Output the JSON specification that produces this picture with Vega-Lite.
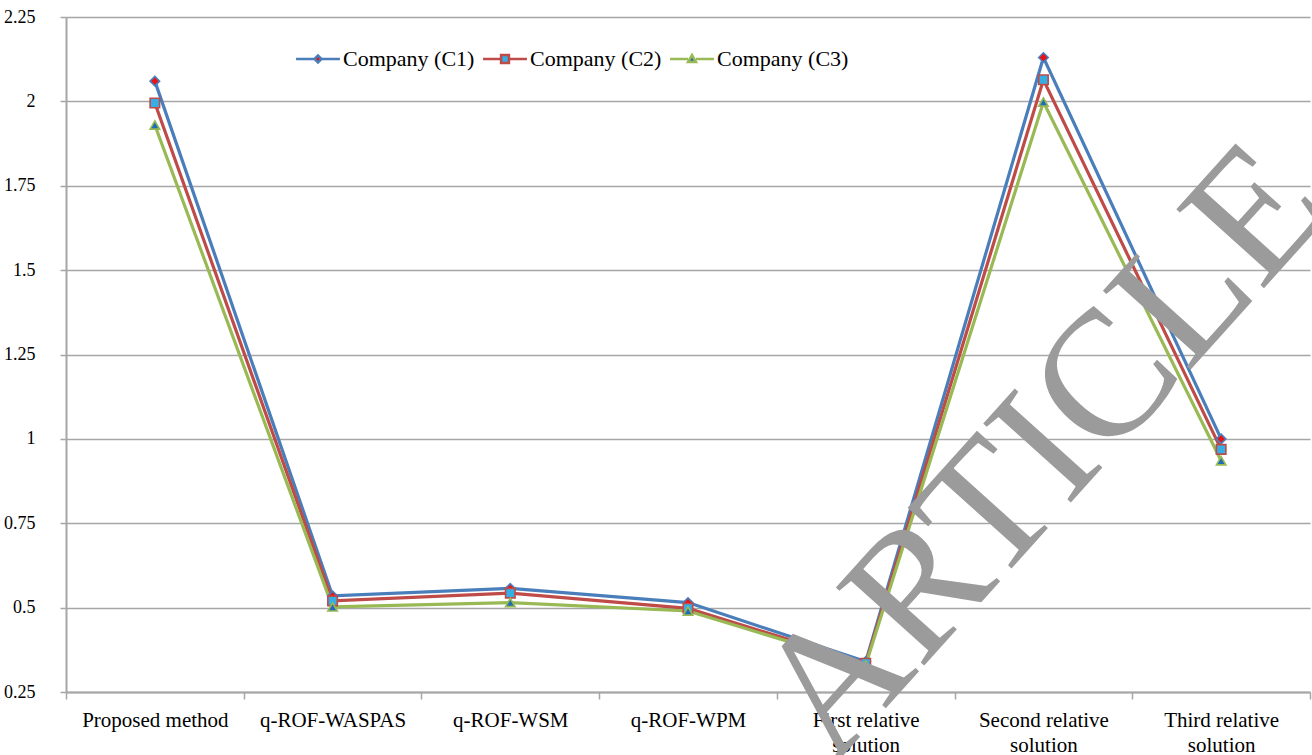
{
  "$schema": "https://vega.github.io/schema/vega-lite/v6.json",
  "width": 1244,
  "height": 675,
  "autosize": {"type": "none"},
  "padding": {"left": 66, "top": 17, "right": 2, "bottom": 63},
  "background": "#ffffff",
  "config": {
    "view": {"stroke": null},
    "font": "Liberation Serif"
  },
  "datasets": {
    "scores": [
      {"method": "Proposed method", "series": "Company (C1)", "value": 2.06},
      {"method": "Proposed method", "series": "Company (C2)", "value": 1.995},
      {"method": "Proposed method", "series": "Company (C3)", "value": 1.93},
      {"method": "q-ROF-WASPAS", "series": "Company (C1)", "value": 0.535},
      {"method": "q-ROF-WASPAS", "series": "Company (C2)", "value": 0.52},
      {"method": "q-ROF-WASPAS", "series": "Company (C3)", "value": 0.502},
      {"method": "q-ROF-WSM", "series": "Company (C1)", "value": 0.557},
      {"method": "q-ROF-WSM", "series": "Company (C2)", "value": 0.543},
      {"method": "q-ROF-WSM", "series": "Company (C3)", "value": 0.515},
      {"method": "q-ROF-WPM", "series": "Company (C1)", "value": 0.515},
      {"method": "q-ROF-WPM", "series": "Company (C2)", "value": 0.498},
      {"method": "q-ROF-WPM", "series": "Company (C3)", "value": 0.49},
      {"method": "First relative solution", "series": "Company (C1)", "value": 0.34},
      {"method": "First relative solution", "series": "Company (C2)", "value": 0.335},
      {"method": "First relative solution", "series": "Company (C3)", "value": 0.33},
      {"method": "Second relative solution", "series": "Company (C1)", "value": 2.13},
      {"method": "Second relative solution", "series": "Company (C2)", "value": 2.064},
      {"method": "Second relative solution", "series": "Company (C3)", "value": 1.998},
      {"method": "Third relative solution", "series": "Company (C1)", "value": 1.0},
      {"method": "Third relative solution", "series": "Company (C2)", "value": 0.969},
      {"method": "Third relative solution", "series": "Company (C3)", "value": 0.935}
    ],
    "stamp": [
      {"method": "Second relative solution", "value": 0.96, "text": "ARTICLE"}
    ]
  },
  "encoding": {
    "x": {
      "field": "method",
      "type": "nominal",
      "sort": ["Proposed method", "q-ROF-WASPAS", "q-ROF-WSM", "q-ROF-WPM", "First relative solution", "Second relative solution", "Third relative solution"],
      "scale": {"paddingInner": 0, "paddingOuter": 0},
      "axis": {
        "title": null,
        "labelAngle": 0,
        "labelFont": "Liberation Serif",
        "labelFontSize": 21,
        "labelColor": "#000000",
        "labelPadding": 10,
        "labelLineHeight": 25,
        "labelBaseline": "top",
        "labelExpr": "indexof(datum.label, 'relative') >= 0 ? [replace(datum.label, ' solution', ''), 'solution'] : datum.label",
        "tickBand": "extent",
        "tickExtra": true,
        "tickSize": 7,
        "tickColor": "#a6a6a6",
        "tickWidth": 1.5,
        "domainColor": "#a6a6a6",
        "domainWidth": 2,
        "grid": false
      }
    },
    "y": {
      "field": "value",
      "type": "quantitative",
      "scale": {"domain": [0.25, 2.25], "nice": false, "zero": false},
      "axis": {
        "title": null,
        "values": [0.25, 0.5, 0.75, 1, 1.25, 1.5, 1.75, 2, 2.25],
        "labelExpr": "datum.value + ''",
        "labelFont": "Liberation Serif",
        "labelFontSize": 18,
        "labelColor": "#000000",
        "labelPadding": 25,
        "tickSize": 6,
        "tickColor": "#a6a6a6",
        "tickWidth": 1.5,
        "domainColor": "#a6a6a6",
        "domainWidth": 2,
        "grid": true,
        "gridColor": "#a6a6a6",
        "gridWidth": 1.6
      }
    }
  },
  "layer": [
    {
      "data": {"name": "scores"},
      "transform": [{"filter": "false"}],
      "mark": {"type": "point", "filled": true, "strokeWidth": 2.5, "opacity": 1},
      "encoding": {
        "stroke": {
          "field": "series",
          "type": "nominal",
          "scale": {"domain": ["Company (C1)", "Company (C2)", "Company (C3)"], "range": ["#4a7ebb", "#be4b48", "#98b954"]}
        },
        "fill": {
          "field": "series",
          "type": "nominal",
          "scale": {"domain": ["Company (C1)", "Company (C2)", "Company (C3)"], "range": ["#ee1111", "#35aee6", "#1f6cb8"]}
        },
        "shape": {
          "field": "series",
          "type": "nominal",
          "scale": {
            "domain": ["Company (C1)", "Company (C2)", "Company (C3)"],
            "range": [
              "M-5,0H-0.8M0.8,0H5M-0.8,0L0,-0.8L0.8,0L0,0.8Z",
              "M-5,0H-0.9M0.9,0H5M-0.9,-0.9H0.9V0.9H-0.9Z",
              "M-5,0H-0.9M0.9,0H5M0,-0.9L0.9,0.7H-0.9Z"
            ]
          },
          "legend": {
            "title": null,
            "orient": "none",
            "direction": "horizontal",
            "legendX": 241,
            "legendY": 31,
            "columns": 3,
            "labelFont": "Liberation Serif",
            "labelFontSize": 22,
            "labelColor": "#000000",
            "labelOffset": 14,
            "columnPadding": 3,
            "symbolSize": 77,
            "symbolStrokeWidth": 2.5,
            "symbolOpacity": 1
          }
        }
      }
    },
    {
      "data": {"name": "scores"},
      "mark": {"type": "line", "strokeWidth": 3.2},
      "encoding": {
        "stroke": {"field": "series", "type": "nominal"},
        "order": {"field": "series"}
      }
    },
    {
      "data": {"name": "scores"},
      "transform": [{"filter": "datum.series === 'Company (C1)'"}],
      "mark": {"type": "point", "shape": "diamond", "filled": true, "size": 90, "fill": "#ee1111", "stroke": "#4a7ebb", "strokeWidth": 1.6, "opacity": 1}
    },
    {
      "data": {"name": "scores"},
      "transform": [{"filter": "datum.series === 'Company (C2)'"}],
      "mark": {"type": "point", "shape": "square", "filled": true, "size": 90, "fill": "#35aee6", "stroke": "#be4b48", "strokeWidth": 1.6, "opacity": 1}
    },
    {
      "data": {"name": "scores"},
      "transform": [{"filter": "datum.series === 'Company (C3)'"}],
      "mark": {"type": "point", "shape": "triangle-up", "filled": true, "size": 90, "fill": "#1f6cb8", "stroke": "#98b954", "strokeWidth": 1.6, "opacity": 1}
    },
    {
      "data": {"name": "stamp"},
      "mark": {
        "type": "text",
        "font": "Liberation Serif",
        "fontSize": 180,
        "angle": -48,
        "align": "center",
        "baseline": "middle",
        "fill": "#9b9b9b"
      },
      "encoding": {
        "text": {"field": "text"}
      }
    }
  ]
}
